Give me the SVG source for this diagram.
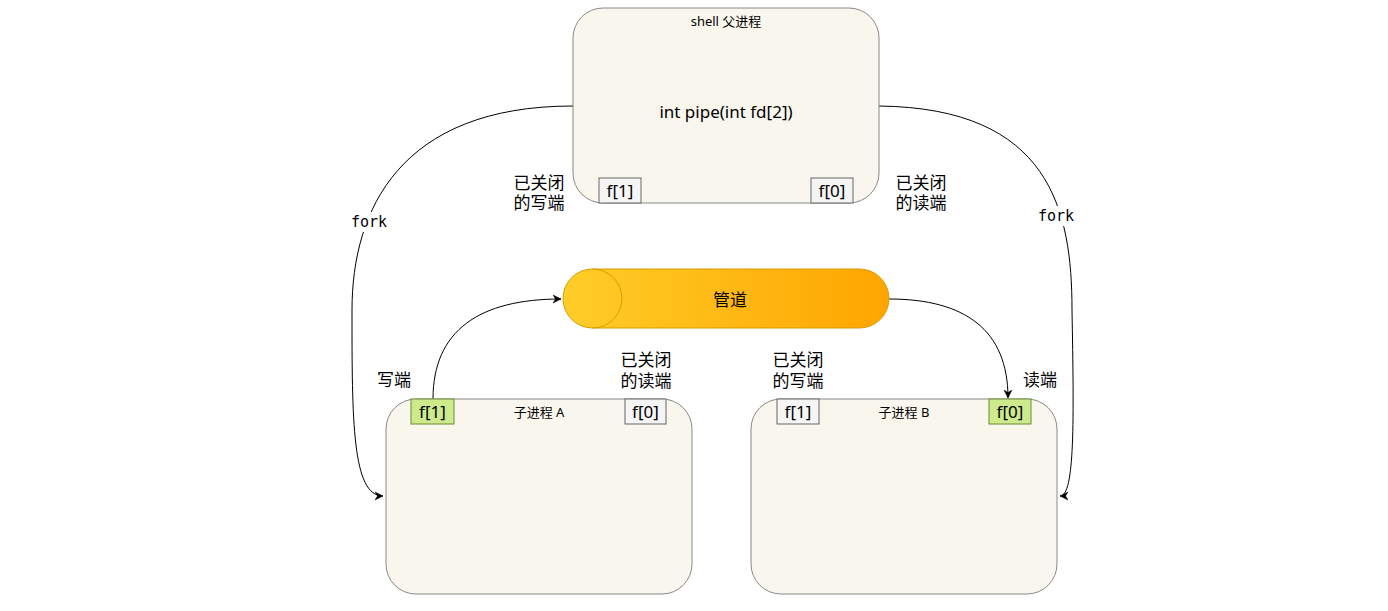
<svg xmlns="http://www.w3.org/2000/svg" width="1388" height="611" viewBox="0 0 1388 611">
<style>
.proc{fill:#f9f7ed;stroke:#888;stroke-width:1}
.fd{fill:#f5f5f5;stroke:#666;stroke-width:1}
.fdg{fill:#cdeb8b;stroke:#6a8a3a;stroke-width:1}
.t{font-family:"Noto Sans","Noto Sans CJK SC",sans-serif;fill:#000}
.fdt{font-family:"Noto Sans","Noto Sans CJK SC",sans-serif;font-size:17px;text-anchor:middle;fill:#000}
.lbl{font-family:"Liberation Sans","Noto Sans CJK SC",sans-serif;font-size:17px;fill:#000;text-anchor:middle}
.small{font-family:"Noto Sans","Noto Sans CJK SC",sans-serif;font-size:13px;fill:#000;text-anchor:middle}
.edge{fill:none;stroke:#000;stroke-width:1}
.fork{font-family:"DejaVu Sans Mono",monospace;font-size:15px;fill:#000;text-anchor:middle}
</style>
<defs>
<marker id="arr" markerWidth="10" markerHeight="10" refX="8" refY="5" orient="auto" markerUnits="userSpaceOnUse">
<path d="M0,1 L8,5 L0,9 L2.5,5 Z" fill="#000" stroke="#000" stroke-width="0.5"/>
</marker>
<linearGradient id="pipeg" x1="0" y1="0" x2="1" y2="0">
<stop offset="0" stop-color="#ffcd28"/>
<stop offset="1" stop-color="#ffa500"/>
</linearGradient>
</defs>
<rect width="1388" height="611" fill="#fff"/>

<g id="edges">
<path class="edge" d="M573 106 C 400 106 352 210 352 310 C 352 420 352 496 383 496" marker-end="url(#arr)"/>
<path class="edge" d="M879 106 C 1050 108 1072 210 1072 310 C 1074 420 1075 496 1060 496" marker-end="url(#arr)"/>
<path class="edge" d="M433 399 C 433 330 480 299 561 299" marker-end="url(#arr)"/>
<path class="edge" d="M889 299 C 965 299 1008 330 1008 398" marker-end="url(#arr)"/>
<rect x="349" y="212" width="40" height="20" fill="#fff"/>
<text class="fork" x="369" y="227">fork</text>
<rect x="1036" y="206" width="40" height="20" fill="#fff"/>
<text class="fork" x="1056" y="221">fork</text>
</g>

<g id="parent">
<rect class="proc" x="573" y="8" width="306" height="195" rx="30" ry="30"/>
<text class="small" x="726" y="26">shell 父进程</text>
<text class="t" x="726" y="118" font-size="17" text-anchor="middle">int pipe(int fd[2])</text>
<rect class="fd" x="599" y="178" width="42" height="25"/>
<text class="fdt" x="620" y="197">f[1]</text>
<rect class="fd" x="811" y="178" width="42" height="25"/>
<text class="fdt" x="832" y="197">f[0]</text>
</g>

<g id="pipe">
<path d="M592.5 269 L859.5 269 A29.5 29.5 0 0 1 859.5 328 L592.5 328 A29.5 29.5 0 0 1 592.5 269 Z" fill="url(#pipeg)" stroke="#d79b00" stroke-width="1"/>
<path d="M592.5 269 A29.5 29.5 0 0 1 592.5 328" fill="none" stroke="#d79b00" stroke-width="1"/>
<text class="t" x="730" y="306" font-size="17" text-anchor="middle">管道</text>
</g>

<g id="childA">
<rect class="proc" x="386" y="399" width="306" height="195" rx="30" ry="30"/>
<text class="small" x="539" y="417">子进程 A</text>
<rect class="fdg" x="411" y="399" width="43" height="25"/>
<text class="fdt" x="432.5" y="418">f[1]</text>
<rect class="fd" x="625" y="399" width="41" height="25"/>
<text class="fdt" x="645.5" y="418">f[0]</text>
</g>

<g id="childB">
<rect class="proc" x="751" y="399" width="306" height="195" rx="30" ry="30"/>
<text class="small" x="904" y="417">子进程 B</text>
<rect class="fd" x="777" y="399" width="42" height="25"/>
<text class="fdt" x="798" y="418">f[1]</text>
<rect class="fdg" x="989" y="399" width="42" height="25"/>
<text class="fdt" x="1010" y="418">f[0]</text>
</g>

<g id="labels">
<text class="lbl" x="539" y="189">已关闭<tspan x="539" dy="20">的写端</tspan></text>
<text class="lbl" x="921" y="189">已关闭<tspan x="921" dy="20">的读端</tspan></text>
<text class="lbl" x="394" y="386">写端</text>
<text class="lbl" x="646" y="366">已关闭<tspan x="646" dy="21">的读端</tspan></text>
<text class="lbl" x="798" y="366">已关闭<tspan x="798" dy="21">的写端</tspan></text>
<text class="lbl" x="1040" y="386">读端</text>
</g>
</svg>
